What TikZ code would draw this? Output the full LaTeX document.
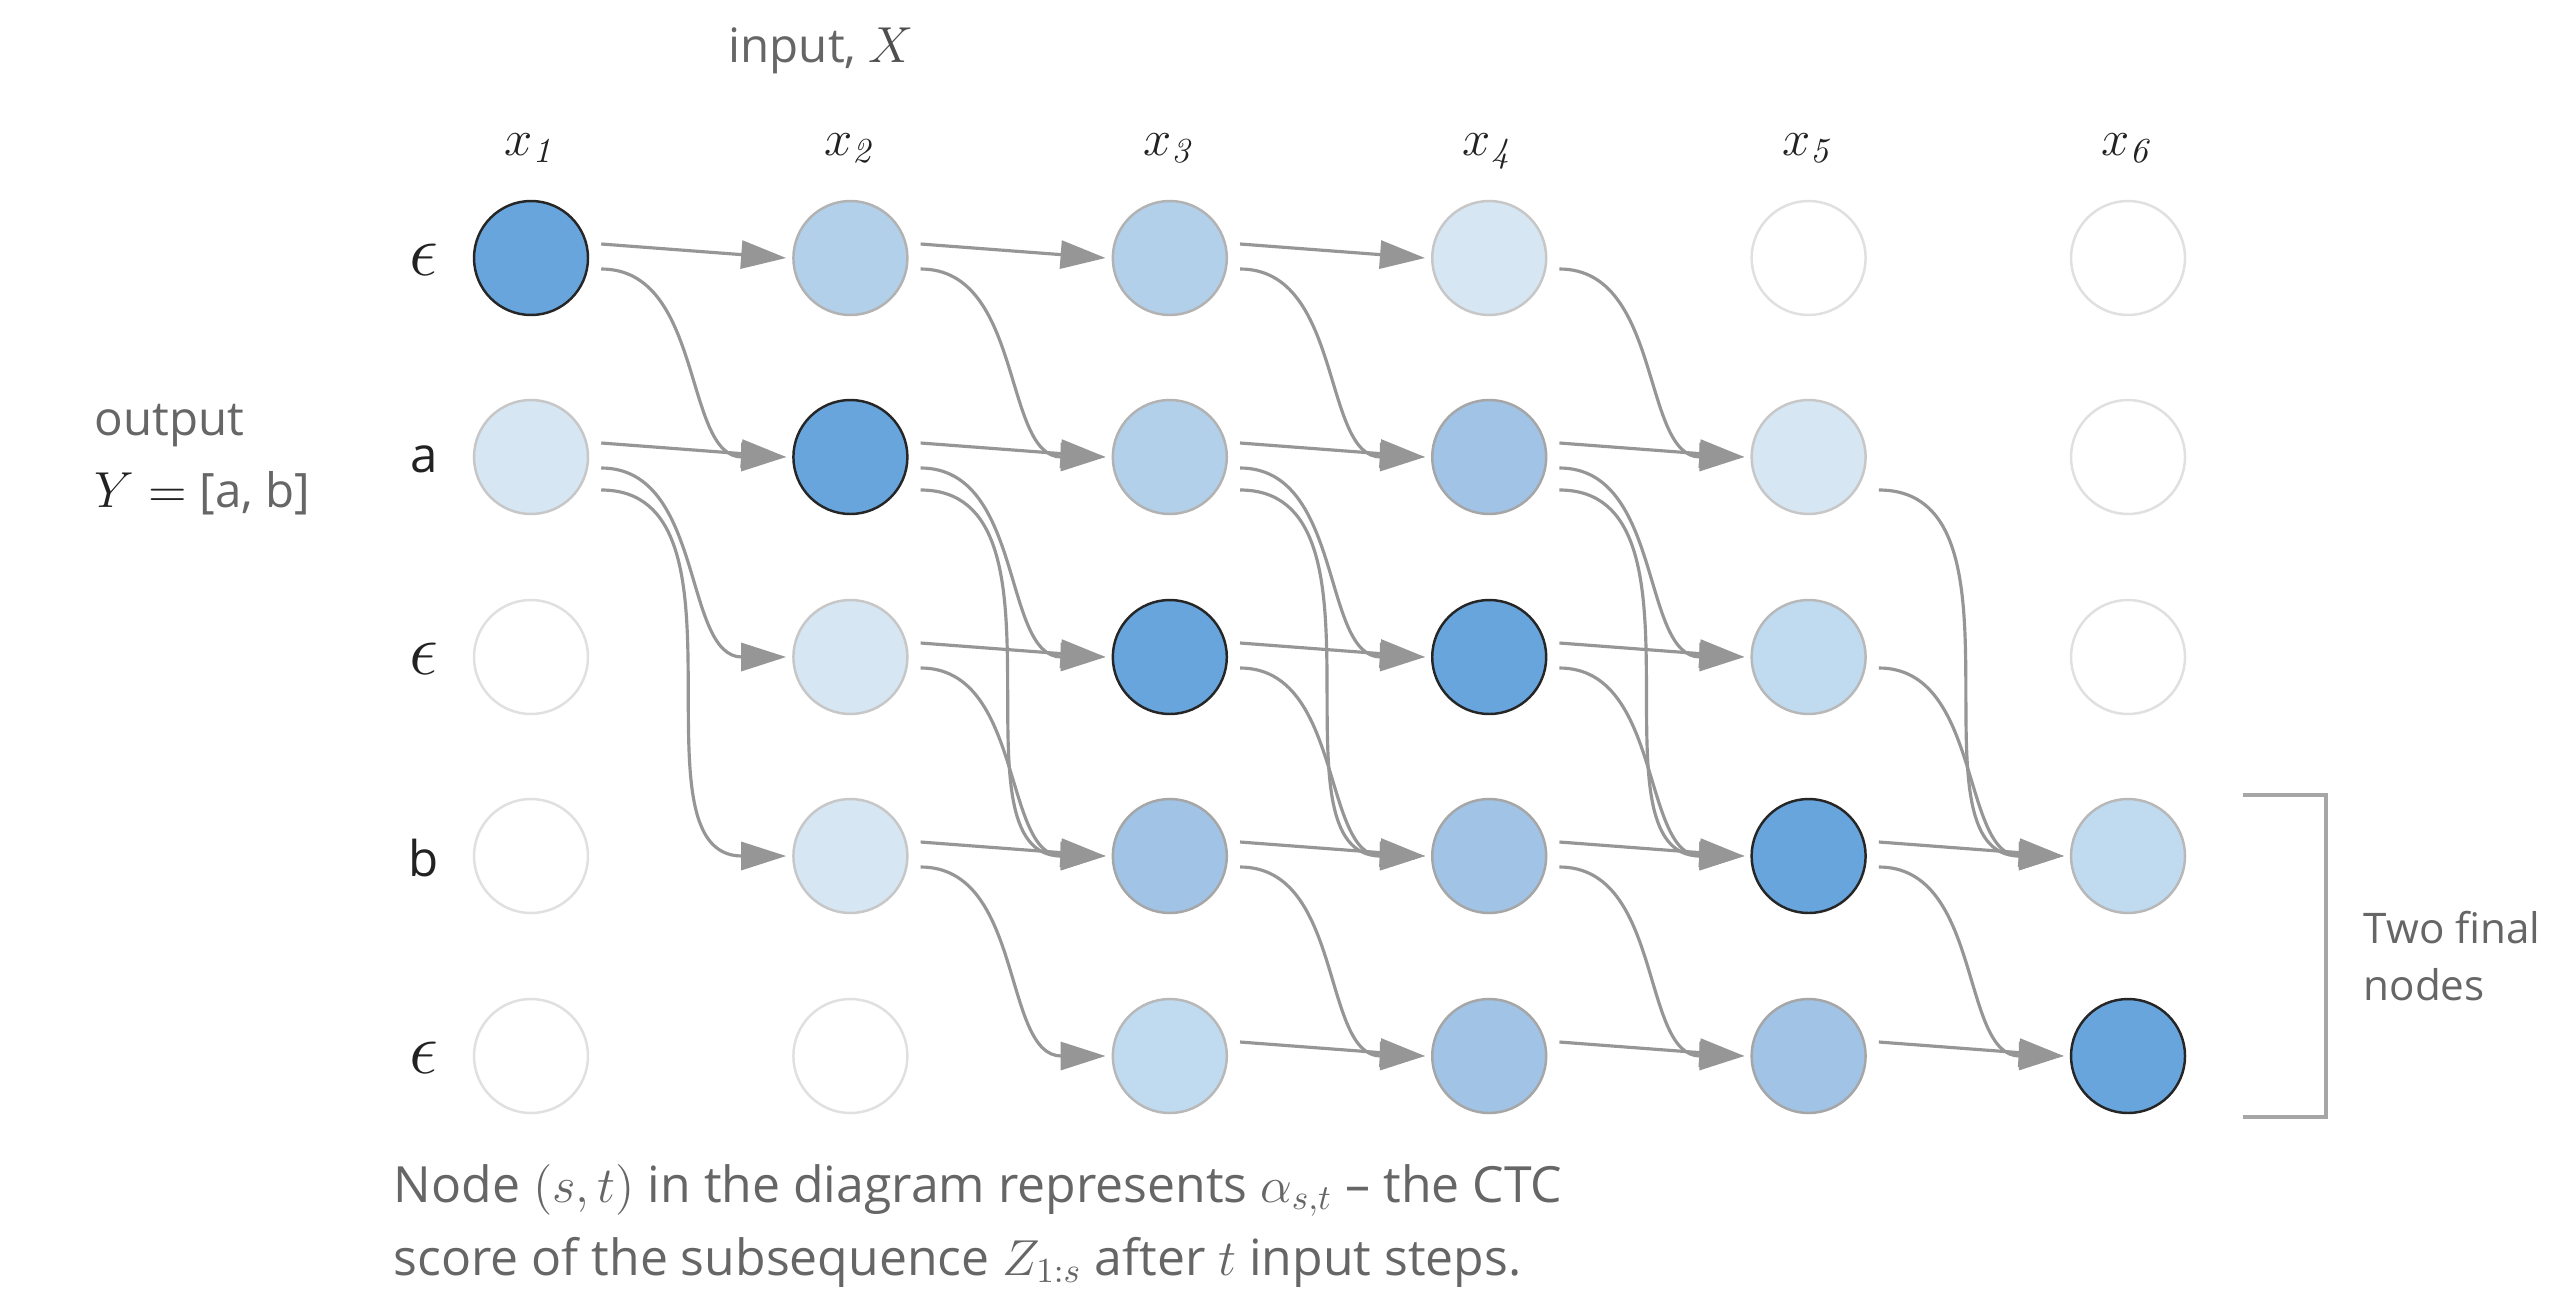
\documentclass[tikz,border=0pt]{standalone}
\usepackage[no-math]{fontspec}
\setmainfont{Open Sans}
\usepackage{amsmath}
\usetikzlibrary{arrows.meta, positioning, calc}
\definecolor{fdk}{RGB}{104,165,220}
\definecolor{fmd}{RGB}{160,195,230}
\definecolor{flt}{RGB}{178,208,234}
\definecolor{fpl}{RGB}{192,218,240}
\definecolor{fvl}{RGB}{214,230,243}
\definecolor{edgegray}{RGB}{150,150,150}
\definecolor{txtgray}{RGB}{102,102,102}
\definecolor{txtdark}{RGB}{34,34,34}
\tikzset{
  cell/.style={circle, minimum size=1.14cm, inner sep=0pt, line width=0.7pt},
  dk/.style={cell, fill=fdk, draw=black!85},
  md/.style={cell, fill=fmd, draw=black!35},
  lt/.style={cell, fill=flt, draw=black!30},
  pl/.style={cell, fill=fpl, draw=black!28},
  vl/.style={cell, fill=fvl, draw=black!22},
  wt/.style={cell, fill=white, draw=black!12},
  arrow/.style={-{Triangle[length=0.45cm,width=0.28cm]}, line width=0.9pt, color=edgegray},
  lbl/.style={font=\fontsize{13.5}{16}\selectfont, text=txtgray, inner sep=0pt},
  caplbl/.style={font=\fontsize{14.2}{17}\selectfont, text=txtgray, inner sep=0pt},
  smalllbl/.style={font=\fontsize{12}{14}\selectfont, text=txtgray, inner sep=0pt},
  rowlbl/.style={font=\fontsize{14}{16}\selectfont, text=txtdark, inner sep=0pt},
  epslbl/.style={font=\fontsize{20}{20}\selectfont, text=txtdark, inner sep=0pt},
  collbl/.style={font=\fontsize{14}{16}\selectfont, text=txtdark, inner sep=0pt},
  bracket/.style={line width=1pt, color=black!35}
}
\begin{document}
\begin{tikzpicture}
  \useasboundingbox[fill=white] (0,0) rectangle (25.76,12.89);

  % alpha nodes, one row per symbol of Z
  \foreach \r/\y/\row in {0/10.31/{dk,lt,lt,vl,wt,wt}, 1/8.32/{vl,dk,lt,md,vl,wt},
      2/6.32/{wt,vl,dk,dk,pl,wt}, 3/4.33/{wt,vl,md,md,dk,pl}, 4/2.33/{wt,wt,pl,md,md,dk}}
    \foreach \f [count=\c] in \row
      \node[\f] (n-\r-\c) at ({5.31+3.194*(\c-1)}, \y) {};

  % column and row labels
  \foreach \c in {1,...,6}
    \node[collbl, anchor=base] (x-\c) at ($(n-0-\c)+(0,1.03)$) {$x_{\mathit{\c}}$};
  \foreach \r/\s/\t in {0/epslbl/$\epsilon$, 1/rowlbl/a, 2/epslbl/$\epsilon$, 3/rowlbl/b, 4/epslbl/$\epsilon$}
    \node[\s] (z-\r) at ($(n-\r-1)+(-1.07,-0.02)$) {\t};

  \node[lbl, anchor=base west] (inp) at (7.28,12.26) {input, \textcolor{txtdark!80}{$X$}};
  \node[lbl, anchor=base west] (out) at (0.94,8.54) {output};
  \node[lbl, anchor=base west] (outy) at (0.94,7.82) {\textcolor{txtdark}{$Y =$} [a, b]};

  % same symbol
  \foreach \c/\r in {1/0,1/1,2/0,2/1,2/2,2/3,3/0,3/1,3/2,3/3,3/4,4/1,4/2,4/3,4/4,5/3,5/4}{
    \pgfmathtruncatemacro\nc{\c+1}
    \draw[arrow] ($(n-\r-\c.east)+(0.12,0.14)$) -- ($(n-\r-\nc.west)+(-0.06,0)$);
  }
  % next symbol
  \foreach \c/\r in {1/0,1/1,2/0,2/1,2/2,2/3,3/0,3/1,3/2,3/3,4/0,4/1,4/2,4/3,5/2,5/3}{
    \pgfmathtruncatemacro\nc{\c+1}
    \pgfmathtruncatemacro\nr{\r+1}
    \draw[arrow] ($(n-\r-\c.east)+(0.12,-0.11)$) to[out=0,in=180] ($(n-\nr-\nc.west)+(-0.06,0)$);
  }
  % skip the blank between a and b
  \foreach \c in {1,...,5}{
    \pgfmathtruncatemacro\nc{\c+1}
    \draw[arrow] ($(n-1-\c.east)+(0.12,-0.33)$) to[out=0,in=180] ($(n-3-\nc.west)+(-0.06,0)$);
  }

  % final nodes
  \draw[bracket] (22.43,4.94) -- (23.26,4.94) -- (23.26,1.72) -- (22.43,1.72);
  \node[smalllbl, anchor=base west] (fin1) at (23.63,3.46) {Two final};
  \node[smalllbl, anchor=base west] (fin2) at (23.63,2.89) {nodes};

  % caption
  \node[caplbl, anchor=base west] (cap1) at (3.93,0.87) {Node $(s,t)$ in the diagram represents $\alpha_{s,t}$ -- the CTC};
  \node[caplbl, anchor=base west] (cap2) at (3.93,0.14) {score of the subsequence $Z_{1:s}$ after $t$ input steps.};
\end{tikzpicture}
\end{document}
